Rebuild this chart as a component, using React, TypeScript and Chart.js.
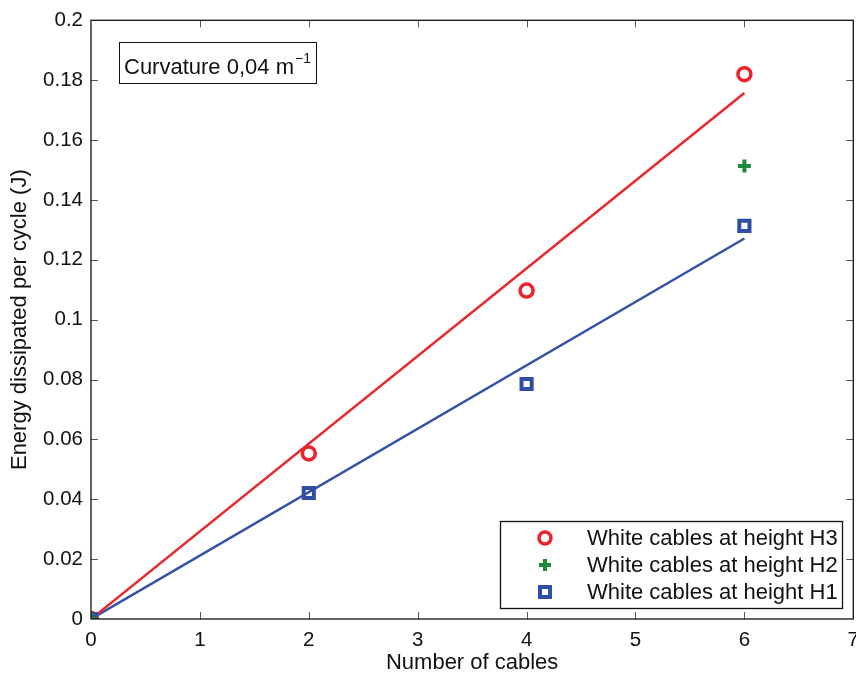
import { useEffect, useRef } from 'react';
import { Chart } from 'chart.js/auto';

const FONT = '"Liberation Sans", Arial, Helvetica, sans-serif';

// measured values
const cables = [0, 2, 4, 6];
const h3 = [0, 0.0553, 0.1097, 0.182];
const h1 = [0, 0.0421, 0.0785, 0.1313];
const h2Cables = [0, 6];
const h2 = [0, 0.1513];
// linear fits (through origin)
const fitX = [0, 6];
const fitH3 = [0, 0.1757];
const fitH1 = [0, 0.1271];

const xTicks = [0, 1, 2, 3, 4, 5, 6, 7];
const yTicks = [0, 0.02, 0.04, 0.06, 0.08, 0.1, 0.12, 0.14, 0.16, 0.18, 0.2];

const legendLabels = ['White cables at height H3', 'White cables at height H2', 'White cables at height H1'];

const RED = '#ec2329';
const GREEN = '#1b8a3c';
const BLUE = '#2f4ea6';

const pts = (xs: number[], ys: number[]) => xs.map((x, i) => ({ x, y: ys[i] }));

const frame = {
  id: 'frame',
  afterDraw(chart: any) {
    const { ctx, chartArea: a, scales } = chart;
    const xs = scales.x, ys = scales.y;
    ctx.save();
    // ticks inward on all four sides
    ctx.strokeStyle = '#555';
    ctx.lineWidth = 1;
    ctx.beginPath();
    xTicks.slice(1, -1).forEach(v => {
      const px = Math.round(xs.getPixelForValue(v)) + 0.5;
      ctx.moveTo(px, a.bottom); ctx.lineTo(px, a.bottom - 7);
      ctx.moveTo(px, a.top); ctx.lineTo(px, a.top + 7);
    });
    yTicks.slice(1, -1).forEach(v => {
      const py = Math.round(ys.getPixelForValue(v)) + 0.5;
      ctx.moveTo(a.left, py); ctx.lineTo(a.left + 7, py);
      ctx.moveTo(a.right, py); ctx.lineTo(a.right - 7, py);
    });
    ctx.stroke();
    // box
    ctx.strokeStyle = '#111';
    ctx.lineWidth = 1.3;
    ctx.strokeRect(a.left, a.top, a.right - a.left, a.bottom - a.top);

    // annotation
    ctx.fillStyle = '#fff';
    ctx.fillRect(119.5, 42.5, 197, 41);
    ctx.lineWidth = 1;
    ctx.strokeRect(119.5, 42.5, 197, 41);
    ctx.fillStyle = '#111';
    ctx.font = `22px ${FONT}`;
    ctx.textBaseline = 'alphabetic';
    ctx.textAlign = 'left';
    const main = 'Curvature 0,04 m';
    ctx.fillText(main, 124, 74);
    const w = ctx.measureText(main).width;
    ctx.font = `14px ${FONT}`;
    ctx.fillText('\u22121', 124 + w + 1, 63);

    // legend
    const lx = 500.5, ly = 521.5, lw = 342, lh = 87;
    ctx.fillStyle = '#fff';
    ctx.fillRect(lx, ly, lw, lh);
    ctx.strokeStyle = '#111';
    ctx.lineWidth = 1.3;
    ctx.strokeRect(lx, ly, lw, lh);
    const rows = [538, 565, 592];
    const mx = 545;
    // circle
    ctx.strokeStyle = RED; ctx.lineWidth = 3.5;
    ctx.beginPath(); ctx.arc(mx, rows[0], 6, 0, Math.PI * 2); ctx.stroke();
    // plus
    ctx.strokeStyle = GREEN; ctx.lineWidth = 4;
    ctx.beginPath();
    ctx.moveTo(mx - 6, rows[1]); ctx.lineTo(mx + 6, rows[1]);
    ctx.moveTo(mx, rows[1] - 6); ctx.lineTo(mx, rows[1] + 6);
    ctx.stroke();
    // square
    ctx.strokeStyle = BLUE; ctx.lineWidth = 4;
    ctx.strokeRect(mx - 5, rows[2] - 5, 10, 10);
    ctx.fillStyle = '#111';
    ctx.font = `22px ${FONT}`;
    ctx.textBaseline = 'middle';
    legendLabels.forEach((t, i) => ctx.fillText(t, 587, rows[i] + 1));
    ctx.restore();
  },
};

export default function App() {
  const ref = useRef<HTMLCanvasElement>(null);
  const ci = useRef<Chart | null>(null);

  useEffect(() => {
    document.body.style.margin = '0';
    if (!ref.current) return;
    ci.current?.destroy();

    ci.current = new Chart(ref.current, {
      type: 'scatter',
      data: {
        datasets: [
          { label: 'fit H3', type: 'line', data: pts(fitX, fitH3), borderColor: '#e8282c', borderWidth: 2.5, pointRadius: 0, fill: false, order: 3 },
          { label: 'fit H1', type: 'line', data: pts(fitX, fitH1), borderColor: '#3352a8', borderWidth: 2.5, pointRadius: 0, fill: false, order: 3 },
          { label: legendLabels[0], data: pts(cables, h3), pointStyle: 'circle', pointRadius: 6.5, borderColor: RED, backgroundColor: 'rgba(0,0,0,0)', pointBorderWidth: 3.5, order: 4 },
          { label: legendLabels[1], data: pts(h2Cables, h2), pointStyle: 'cross', pointRadius: 6.5, borderColor: GREEN, pointBorderWidth: 4, order: 0 },
          { label: legendLabels[2], data: pts(cables, h1), pointStyle: 'rect', pointRadius: 7.2, borderColor: BLUE, backgroundColor: 'rgba(0,0,0,0)', pointBorderWidth: 4, order: 2 },
        ] as any,
      },
      options: {
        responsive: true,
        maintainAspectRatio: false,
        animation: false,
        layout: { padding: { top: 19, right: 3, left: 0, bottom: 0 } },
        plugins: { legend: { display: false }, tooltip: { enabled: false } },
        scales: {
          x: {
            type: 'linear', min: 0, max: 7,
            afterBuildTicks: (s: any) => { s.ticks = xTicks.map(v => ({ value: v })); },
            afterFit: (s: any) => { s.height = 59; },
            grid: { display: false, drawTicks: false },
            border: { display: false },
            ticks: { color: '#111', font: { family: FONT, size: 20.5 }, padding: 9, maxRotation: 0 },
            title: { display: true, text: 'Number of cables', color: '#111', font: { family: FONT, size: 22 }, padding: { top: 2, bottom: 2 } },
          },
          y: {
            type: 'linear', min: 0, max: 0.2,
            afterBuildTicks: (s: any) => { s.ticks = yTicks.map(v => ({ value: v })); },
            afterFit: (s: any) => { s.width = 91; },
            grid: { display: false, drawTicks: false },
            border: { display: false },
            ticks: { color: '#111', font: { family: FONT, size: 20.5 }, padding: 8, callback: (v: any) => String(Number(Number(v).toFixed(2))) },
            title: { display: true, text: 'Energy dissipated per cycle (J)', color: '#111', font: { family: FONT, size: 22 }, padding: { top: 7, bottom: 7 } },
          },
        },
      },
      plugins: [frame],
    });

    return () => ci.current?.destroy();
  }, []);

  // the chart is laid out wider than the window so that the "7" label overhangs the right edge, as in the reference
  return (
    <div style={{ width: 856, height: 678, overflow: 'hidden', background: '#fff' }}>
      <div style={{ position: 'relative', width: 868, height: 678 }}>
        <canvas ref={ref} />
      </div>
    </div>
  );
}
